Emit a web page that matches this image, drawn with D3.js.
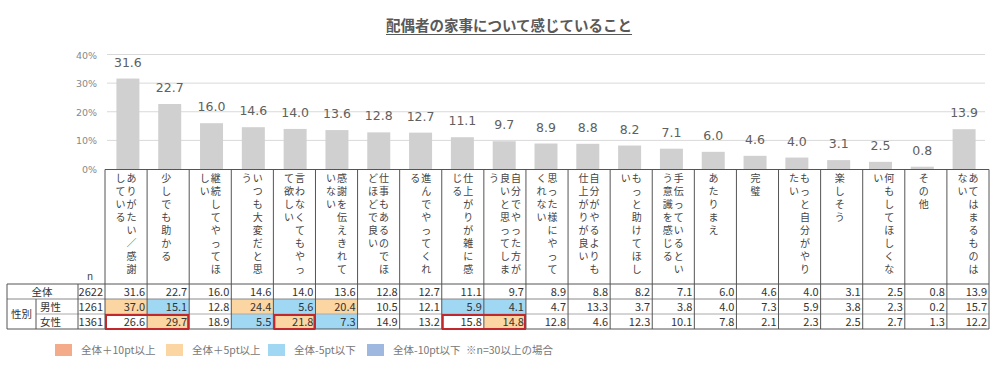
<!DOCTYPE html>
<html><head><meta charset="utf-8">
<script src="https://cdn.jsdelivr.net/npm/d3@7"></script>
<style>
html,body{margin:0;padding:0;background:#fff;}
svg{display:block;font-family:"Noto Sans CJK JP","Noto Sans",sans-serif;}
</style></head>
<body><svg id="c" width="1006" height="366"></svg>
<script>
const title = "配偶者の家事について感じていること";
const categories = ["ありがたい／感謝している","少しでも助かる","継続してやってほしい","いつも大変だと思う","言わなくてもやって欲しい","感謝を伝えきれていない","仕事もあるのでほどほどで良い","進んでやってくれる","仕上がりが雑に感じる","自分でやった方が良いと思ってしまう","思った様にやってくれない","自分がやるよりも仕上がりが良い","もっと助けてほしい","手伝っているという意識を感じる","あたりまえ","完璧","もっと自分がやりたい","楽しそう","何もしてほしくない","その他","あてはまるものはない"];
const totalValues = [31.6,22.7,16.0,14.6,14.0,13.6,12.8,12.7,11.1,9.7,8.9,8.8,8.2,7.1,6.0,4.6,4.0,3.1,2.5,0.8,13.9];
const maleValues = [37.0,15.1,12.8,24.4,5.6,20.4,10.5,12.1,5.9,4.1,4.7,13.3,3.7,3.8,4.0,7.3,5.9,3.8,2.3,0.2,15.7];
const femaleValues = [26.6,29.7,18.9,5.5,21.8,7.3,14.9,13.2,15.8,14.8,12.8,4.6,12.3,10.1,7.8,2.1,2.3,2.5,2.7,1.3,12.2];
const rowLabels = ["全体","男性","女性"];
const groupLabel = "性別";
const nValues = [2622,1261,1361];
// highlight codes: p10 = +10pt, p5 = +5pt, m5 = -5pt, m10 = -10pt
const maleMarks = ["p5","m5","","p5","m5","p5","","","m5","m5","","","","","","","","","","",""];
const femaleMarks = ["","p5","","m5","p5","m5","","","","p5","","","","","","","","","","",""];
const femaleBoxes = [[0,1],[4,4],[8,9]];
const yTicks = [0,10,20,30,40];
const legendItems = [["p10","全体＋10pt以上"],["p5","全体＋5pt以上"],["m5","全体-5pt以下"],["m10","全体-10pt以下"]];
const legendNote = "※n=30以上の場合";

const markColor = {p10:"#f4ab8a", p5:"#fcd6a2", m5:"#a0d8f3", m10:"#9fb8e0"};

const svg = d3.select("#c");
const colX = d3.scaleBand().domain(d3.range(21)).range([105,989]).padding(0);
const barX = d3.scaleBand().domain(d3.range(21)).range([107,985]).paddingInner(0.45).paddingOuter(0.225);
const y = d3.scaleLinear().domain([0,40]).range([169,54.5]);

// title
const t = svg.append("text").attr("x",509).attr("y",31).attr("text-anchor","middle")
  .attr("font-size",14.5).attr("font-weight","bold").attr("fill","#595959").text(title);
const bb = t.node().getBBox();
svg.append("line").attr("x1",bb.x).attr("x2",bb.x+bb.width).attr("y1",34.5).attr("y2",34.5)
  .attr("stroke","#595959").attr("stroke-width",1);

// gridlines
svg.append("g").selectAll("line").data(yTicks.filter(d=>d>0)).join("line")
  .attr("x1",107).attr("x2",985).attr("y1",d=>y(d)).attr("y2",d=>y(d))
  .attr("stroke","#d9d9d9").attr("stroke-width",1);
svg.append("g").selectAll("text").data(yTicks).join("text")
  .attr("x",97).attr("y",d=>y(d)+4).attr("text-anchor","end")
  .attr("font-family","DejaVu Sans").attr("font-size",9.5).attr("fill","#888").text(d=>d+"%");

// bars
svg.append("g").selectAll("rect").data(totalValues).join("rect")
  .attr("x",(d,i)=>barX(i)).attr("width",barX.bandwidth())
  .attr("y",d=>y(d)).attr("height",d=>y(0)-y(d)).attr("fill","#d0d0d0");
svg.append("g").selectAll("text").data(totalValues).join("text")
  .attr("x",(d,i)=>barX(i)+barX.bandwidth()/2).attr("y",d=>y(d)-12)
  .attr("text-anchor","middle").attr("font-family","DejaVu Sans").attr("font-size",12.5).attr("fill","#606060")
  .text(d=>d.toFixed(1));

// vertical category labels
const lab = svg.append("g").attr("font-size",10).attr("fill","#444").attr("text-anchor","middle");
categories.forEach((c,i)=>{
  const chunks = [];
  for(let k=0;k<c.length;k+=8) chunks.push(c.slice(k,k+8));
  const cx = colX(i)+colX.bandwidth()/2;
  const n = chunks.length;
  chunks.forEach((ch,j)=>{
    let x;
    if(n===1) x = cx-2;
    else x = cx + (n-1)*5.5 - j*11;
    Array.from(ch).forEach((s,k)=>{
      lab.append("text").attr("x",x).attr("y",178+k*13+3.5).text(s);
    });
  });
});

// table
const rowTop = 284, rh = 15;
const allRows = [totalValues, maleValues, femaleValues];
const allMarks = [null, maleMarks, femaleMarks];
allRows.forEach((row,r)=>{
  if(!allMarks[r]) return;
  svg.append("g").selectAll("rect").data(row).join("rect")
    .attr("x",(d,i)=>colX(i)).attr("width",colX.bandwidth())
    .attr("y",rowTop+r*rh).attr("height",rh)
    .attr("fill",(d,i)=>allMarks[r][i]?markColor[allMarks[r][i]]:"none");
});
const g = svg.append("g");
g.append("line").attr("x1",105).attr("x2",989).attr("y1",169.5).attr("y2",169.5).attr("stroke","#555");
g.append("line").attr("x1",7).attr("x2",989).attr("y1",rowTop).attr("y2",rowTop).attr("stroke","#555");
g.append("line").attr("x1",7).attr("x2",989).attr("y1",rowTop+rh).attr("y2",rowTop+rh).attr("stroke","#888");
g.append("line").attr("x1",36).attr("x2",989).attr("y1",rowTop+2*rh).attr("y2",rowTop+2*rh).attr("stroke","#aaa");
g.append("line").attr("x1",7).attr("x2",989).attr("y1",rowTop+3*rh).attr("y2",rowTop+3*rh).attr("stroke","#555");
g.selectAll("line.v").data(d3.range(22)).join("line").attr("class","v")
  .attr("x1",i=>i<21?colX(i):989).attr("x2",i=>i<21?colX(i):989)
  .attr("y1",169.5).attr("y2",rowTop+3*rh).attr("stroke","#555");
g.append("line").attr("x1",7).attr("x2",7).attr("y1",rowTop).attr("y2",rowTop+3*rh).attr("stroke","#555");
g.append("line").attr("x1",78).attr("x2",78).attr("y1",rowTop).attr("y2",rowTop+3*rh).attr("stroke","#555");
g.append("line").attr("x1",36).attr("x2",36).attr("y1",rowTop+rh).attr("y2",rowTop+3*rh).attr("stroke","#555");

svg.append("text").attr("x",90).attr("y",280).attr("text-anchor","middle").attr("font-size",10).attr("fill","#444").text("n");
svg.append("text").attr("x",42).attr("y",rowTop+rh/2+4).attr("text-anchor","middle").attr("font-size",10.5).attr("fill","#333").text(rowLabels[0]);
svg.append("text").attr("x",21.5).attr("y",rowTop+2*rh+4).attr("text-anchor","middle").attr("font-size",10.5).attr("fill","#333").text(groupLabel);
[1,2].forEach(r=>svg.append("text").attr("x",40).attr("y",rowTop+r*rh+rh/2+4).attr("font-size",10.5).attr("fill","#333").text(rowLabels[r]));
svg.append("g").selectAll("text").data(nValues).join("text")
  .attr("x",103).attr("y",(d,r)=>rowTop+r*rh+rh/2+4).attr("text-anchor","end")
  .attr("font-size",11).attr("fill","#333").text(d=>d);
allRows.forEach((row,r)=>{
  svg.append("g").selectAll("text").data(row).join("text")
    .attr("x",(d,i)=>colX(i)+colX.bandwidth()-2).attr("y",rowTop+r*rh+rh/2+4)
    .attr("text-anchor","end").attr("font-size",11).attr("fill","#333").text(d=>d.toFixed(1));
});
svg.append("g").selectAll("rect").data(femaleBoxes).join("rect")
  .attr("x",d=>colX(d[0])+1).attr("width",d=>colX(d[1])+colX.bandwidth()-colX(d[0])-2)
  .attr("y",rowTop+2*rh+1).attr("height",rh-1)
  .attr("fill","none").attr("stroke","#c0282d").attr("stroke-width",2);

// legend
const lx = [55,166,268,367];
const lg = svg.append("g");
legendItems.forEach((it,k)=>{
  lg.append("rect").attr("x",lx[k]).attr("y",344).attr("width",17).attr("height",12).attr("fill",markColor[it[0]]);
  lg.append("text").attr("x",lx[k]+26).attr("y",354).attr("font-size",10.5).attr("fill","#777").text(it[1]);
});
lg.append("text").attr("x",466).attr("y",354).attr("font-size",10.5).attr("fill","#777").text(legendNote);
</script>
</body></html>
